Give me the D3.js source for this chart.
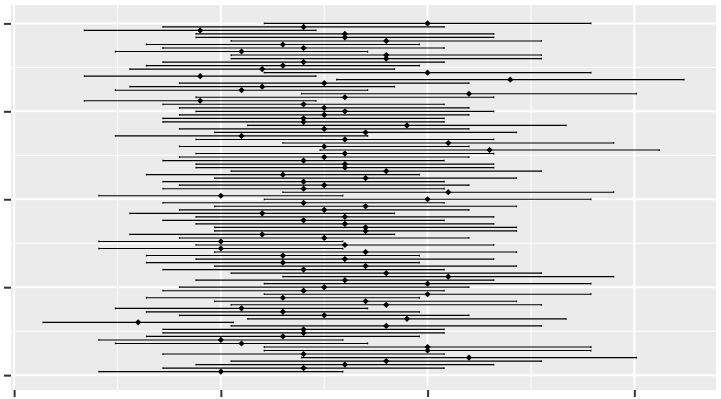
<!DOCTYPE html>
<html>
<head>
<meta charset="utf-8">
<script src="https://cdn.jsdelivr.net/npm/d3@7"></script>
<style>
  body { margin: 0; background: #fff; }
  svg { display: block; }
</style>
</head>
<body>
<svg id="chart"></svg>
<script>
// rows listed from the top row (id 100) down to the bottom row (id 1)
var est = [2.0,1.4,0.9,1.6,1.6,1.8,1.3,1.4,1.1,1.8,
           1.8,1.4,1.3,1.2,2.0,0.9,2.4,1.5,1.2,1.1,
           2.2,1.6,0.9,1.4,1.5,1.6,1.5,1.4,1.4,1.9,
           1.5,1.7,1.1,1.6,2.1,1.5,2.3,1.6,1.5,1.4,
           1.6,1.6,1.8,1.3,1.7,1.4,1.5,1.4,2.1,1.0,
           2.0,1.4,1.7,1.5,1.2,1.6,1.4,1.6,1.7,1.7,
           1.2,1.5,1.0,1.6,1.0,1.7,1.3,1.6,1.3,1.7,
           1.4,1.8,2.1,1.6,2.0,1.5,1.4,2.0,1.3,1.7,
           1.8,1.1,1.3,1.5,1.9,0.6,1.8,1.4,1.4,1.3,
           1.0,1.1,2.0,2.0,1.4,2.2,1.8,1.6,1.4,1.0];

var lower = [1.21,0.72,0.34,0.88,0.88,1.05,0.64,0.72,0.49,1.05,
             1.05,0.72,0.64,0.56,1.21,0.34,1.56,0.80,0.56,0.49,
             1.39,0.88,0.34,0.72,0.80,0.88,0.80,0.72,0.72,1.13,
             0.80,0.97,0.49,0.88,1.30,0.80,1.48,0.88,0.80,0.72,
             0.88,0.88,1.05,0.64,0.97,0.72,0.80,0.72,1.30,0.41,
             1.21,0.72,0.97,0.80,0.56,0.88,0.72,0.88,0.97,0.97,
             0.56,0.80,0.41,0.88,0.41,0.97,0.64,0.88,0.64,0.97,
             0.72,1.05,1.30,0.88,1.21,0.80,0.72,1.21,0.64,0.97,
             1.05,0.49,0.64,0.80,1.13,0.14,1.05,0.72,0.72,0.64,
             0.41,0.49,1.21,1.21,0.72,1.39,1.05,0.88,0.72,0.41];

var upper = [2.79,2.08,1.46,2.32,2.32,2.55,1.96,2.08,1.71,2.55,
             2.55,2.08,1.96,1.84,2.79,1.46,3.24,2.20,1.84,1.71,
             3.01,2.32,1.46,2.08,2.20,2.32,2.20,2.08,2.08,2.67,
             2.20,2.43,1.71,2.32,2.90,2.20,3.12,2.32,2.20,2.08,
             2.32,2.32,2.55,1.96,2.43,2.08,2.20,2.08,2.90,1.59,
             2.79,2.08,2.43,2.20,1.84,2.32,2.08,2.32,2.43,2.43,
             1.84,2.20,1.59,2.32,1.59,2.43,1.96,2.32,1.96,2.43,
             2.08,2.55,2.90,2.32,2.79,2.20,2.08,2.79,1.96,2.43,
             2.55,1.71,1.96,2.20,2.67,1.06,2.55,2.08,2.08,1.96,
             1.59,1.71,2.79,2.79,2.08,3.01,2.55,2.32,2.08,1.59];

var xTicks = [0, 1, 2, 3];
var xMinor = [0.5, 1.5, 2.5];
var yTicks = [0, 25, 50, 75, 100];
var yMinor = [12.5, 37.5, 62.5, 87.5];

var width = 721, height = 399;
var panel = {left: 11, right: 716, top: 5, bottom: 390};
var barHeight = 0.5;

var data = est.map(function(d, i) {
  return {id: est.length - i, est: d, lo: lower[i], hi: upper[i]};
});

// ggplot-like 5% expansion of the data range
function expand(ext) {
  var pad = (ext[1] - ext[0]) * 0.05;
  return [ext[0] - pad, ext[1] + pad];
}

var x = d3.scaleLinear()
  .domain(expand([d3.min(lower), d3.max(upper)]))
  .range([panel.left, panel.right]);

var y = d3.scaleLinear()
  .domain(expand([d3.min(data, function(d) { return d.id; }) - barHeight / 2,
                  d3.max(data, function(d) { return d.id; }) + barHeight / 2]))
  .range([panel.bottom, panel.top]);

var svg = d3.select("#chart")
  .attr("width", width)
  .attr("height", height);

svg.append("rect")
  .attr("width", width)
  .attr("height", height)
  .attr("fill", "#ffffff");

svg.append("rect")
  .attr("x", panel.left)
  .attr("y", panel.top)
  .attr("width", panel.right - panel.left)
  .attr("height", panel.bottom - panel.top)
  .attr("fill", "#ebebeb");

var grid = svg.append("g");

grid.selectAll(".xminor").data(xMinor).enter().append("line")
  .attr("x1", function(d) { return x(d); })
  .attr("x2", function(d) { return x(d); })
  .attr("y1", panel.top).attr("y2", panel.bottom)
  .attr("stroke", "#fff").attr("stroke-width", 1);

grid.selectAll(".yminor").data(yMinor).enter().append("line")
  .attr("y1", function(d) { return y(d); })
  .attr("y2", function(d) { return y(d); })
  .attr("x1", panel.left).attr("x2", panel.right)
  .attr("stroke", "#fff").attr("stroke-width", 1);

grid.selectAll(".xmajor").data(xTicks).enter().append("line")
  .attr("x1", function(d) { return x(d); })
  .attr("x2", function(d) { return x(d); })
  .attr("y1", panel.top).attr("y2", panel.bottom)
  .attr("stroke", "#fff").attr("stroke-width", 2);

grid.selectAll(".ymajor").data(yTicks).enter().append("line")
  .attr("y1", function(d) { return y(d); })
  .attr("y2", function(d) { return y(d); })
  .attr("x1", panel.left).attr("x2", panel.right)
  .attr("stroke", "#fff").attr("stroke-width", 2);

// axes: ticks only, no labels
var xAxis = d3.axisBottom(x).tickValues(xTicks).tickSize(7).tickFormat("");
var yAxis = d3.axisLeft(y).tickValues(yTicks).tickSize(7).tickFormat("");

var gx = svg.append("g")
  .attr("transform", "translate(0," + panel.bottom + ")")
  .call(xAxis);
var gy = svg.append("g")
  .attr("transform", "translate(" + panel.left + ",0)")
  .call(yAxis);

[gx, gy].forEach(function(g) {
  g.select(".domain").remove();
  g.selectAll(".tick line").attr("stroke", "#333333").attr("stroke-width", 2);
});

// error bars
var bars = svg.append("g")
  .attr("stroke", "#000")
  .attr("stroke-width", 1.15)
  .attr("fill", "none");

var bar = bars.selectAll(".bar")
  .data(data)
  .enter().append("path")
  .attr("d", function(d) {
    var y0 = y(d.id - barHeight / 2), y1 = y(d.id + barHeight / 2), yc = y(d.id);
    var xl = x(d.lo), xr = x(d.hi);
    return "M" + xl + "," + y0 + "L" + xl + "," + y1 +
           "M" + xl + "," + yc + "L" + xr + "," + yc +
           "M" + xr + "," + y0 + "L" + xr + "," + y1;
  });

// diamond points
var r = 3.1;
svg.append("g").selectAll(".pt")
  .data(data)
  .enter().append("path")
  .attr("transform", function(d) { return "translate(" + x(d.est) + "," + y(d.id) + ")"; })
  .attr("d", "M0," + (-r) + "L" + r + ",0L0," + r + "L" + (-r) + ",0Z")
  .attr("fill", "#000");
</script>
</body>
</html>
